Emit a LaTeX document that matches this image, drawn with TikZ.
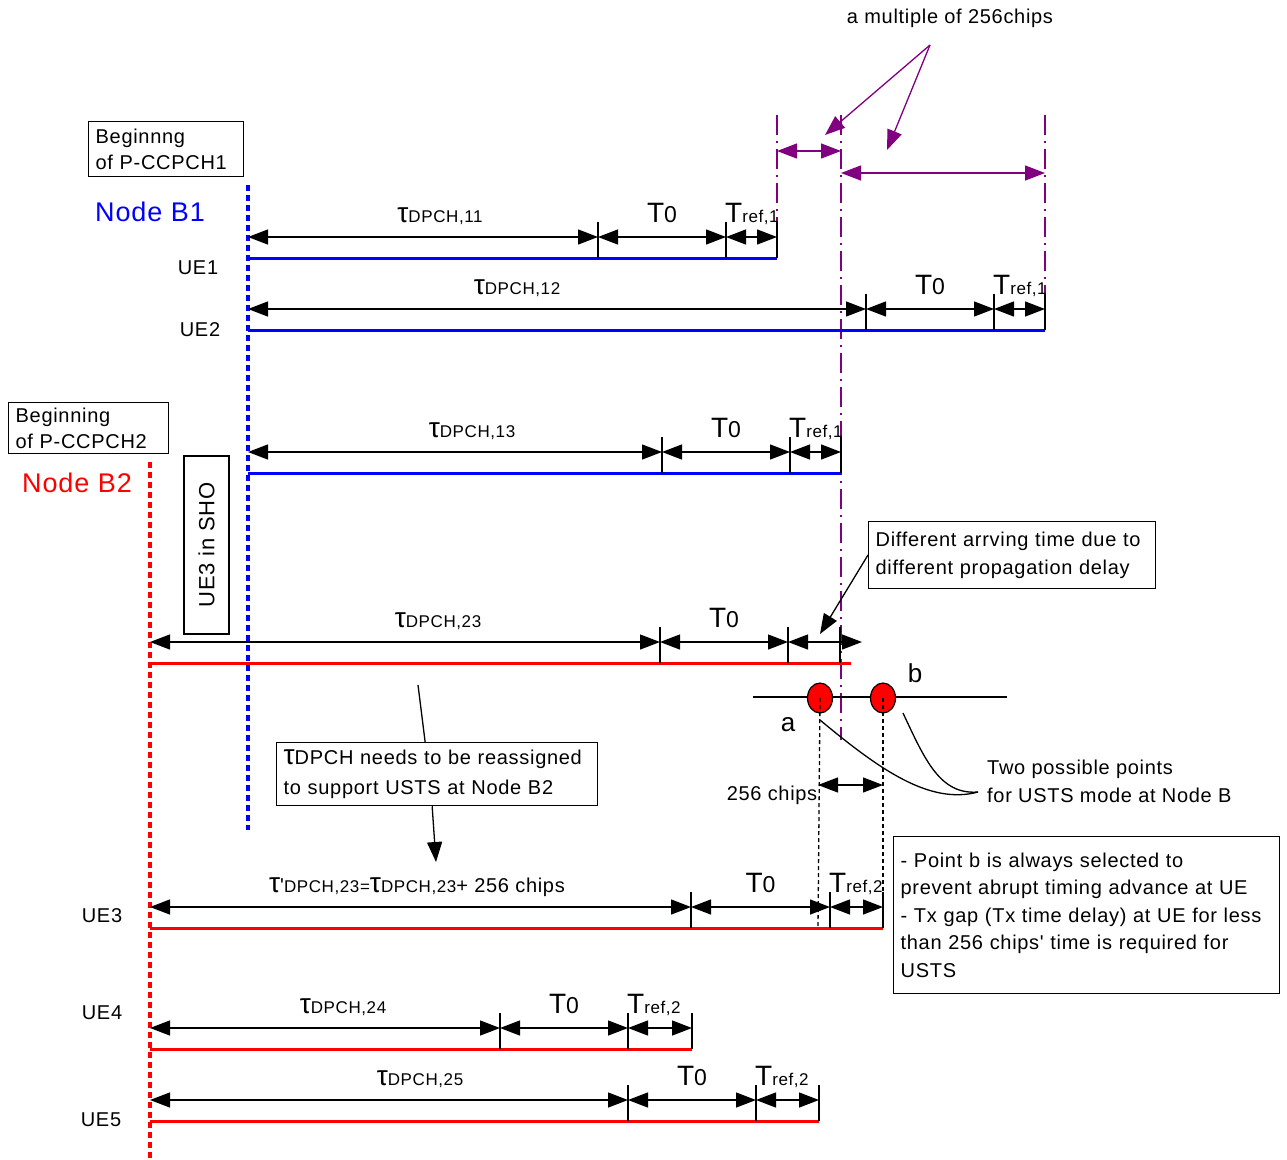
\documentclass[tikz,border=0pt]{standalone}
\usepackage{fontspec}
\setmainfont{Liberation Sans}[LetterSpace=3.5,Ligatures=TeXOff]
\usetikzlibrary{arrows.meta,shapes.geometric}
\definecolor{chipviolet}{RGB}{128,0,128}
\newcommand\tauD{{\fontsize{28}{28}\selectfont τ}}
\newcommand\bigT{{\fontsize{28}{28}\selectfont T}}
\newcommand\tsub[1]{{\fontsize{17}{17}\selectfont #1}}
\newcommand\tnull{\bigT{\fontsize{23}{23}\selectfont 0}}
\begin{document}
\begin{tikzpicture}[x=1pt,y=-1pt,every node/.style={font=\fontsize{20}{24}\selectfont,inner sep=0pt}]
	\tikzset{dim/.style = {{Triangle[length=20pt,width=15pt]}-{Triangle[length=20pt,width=15pt]},line width=1.3pt}}
	\tikzset{onetip/.style = {-{Triangle[length=20pt,width=15pt]},line width=1.3pt}}
	\tikzset{divider/.style = {line width=1.2pt}}
	\tikzset{chan/.style = {line width=3pt}}
	\tikzset{bline/.style = {line width=3.2pt,dash pattern=on 6pt off 4pt}}
	\tikzset{chipline/.style = {chipviolet,line width=1.3pt,dash pattern=on 20pt off 6pt on 2pt off 6pt}}
	\tikzset{dotline/.style = {line width=1.3pt,dash pattern=on 4pt off 3pt}}
	\tikzset{box/.style = {draw,line width=1.3pt,align=left,inner sep=7pt,font=\fontsize{20}{26}\selectfont}}
	\tikzset{lbl/.style = {anchor=base}}
	\useasboundingbox (0,0) rectangle (1287,1159);
	% Node B timing origins
	\draw[bline,blue] (248,185) -- (248,830);
	\draw[bline,red] (150,462) -- (150,1159);
	\node[box,text width=141pt,anchor=north west] (pcc1) at (88,121) {Beginnng\\of P-CCPCH1};
	\node[text=blue,font=\fontsize{27}{27}\selectfont] (nb1) at (150,212) {Node B1};
	\node[box,text width=146pt,anchor=north west,inner ysep=5pt] (pcc2) at (8,402) {Beginning\\of P-CCPCH2};
	\node[text=red,font=\fontsize{27}{27}\selectfont] (nb2) at (77,483) {Node B2};
	\node[draw,line width=1.3pt,rotate=90,minimum width=178pt,minimum height=45pt,font=\fontsize{22}{22}\selectfont] (sho) at (206.5,545) {UE3 in SHO};
	% 256-chip grid
	\draw[chipline] (777,115) -- (777,235);
	\draw[chipline] (841,115) -- (841,740);
	\draw[chipline] (1045,115) -- (1045,300);
	\coordinate (g1) at (777,151);
	\coordinate (g2) at (841,151);
	\coordinate (g3) at (841,173);
	\coordinate (g4) at (1045,173);
	\draw[dim,chipviolet] (g1) -- (g2);
	\draw[dim,chipviolet] (g3) -- (g4);
	\node (mult) at (950,18) {a multiple of 256chips};
	\coordinate (mfrom) at (930,45);
	\coordinate (mto1) at (825,135);
	\coordinate (mto2) at (887,150);
	\draw[onetip,chipviolet] (mfrom) -- (mto1);
	\draw[onetip,chipviolet] (mfrom) -- (mto2);
	% Channel rows
	\foreach \n/\y/\xa/\xb/\xc/\xd/\col/\tx/\tlab/\tr in {
		ue1/237/248/598/726/777/blue/440/{\tauD\tsub{DPCH,11}}/1,
		ue2/309/248/866/994/1045/blue/517/{\tauD\tsub{DPCH,12}}/1,
		ue3a/452/248/662/790/841/blue/472/{\tauD\tsub{DPCH,13}}/1,
		ue3/907/150/691/830/883/red/417/{\tauD'\tsub{DPCH,23=}\tauD\tsub{DPCH,23}+ 256 chips}/2,
		ue4/1028/150/500/628/692/red/343/{\tauD\tsub{DPCH,24}}/2,
		ue5/1100/150/628/756/819/red/420/{\tauD\tsub{DPCH,25}}/2}
	{
		\coordinate (\n-s) at (\xa,\y);
		\coordinate (\n-a) at (\xb,\y);
		\coordinate (\n-b) at (\xc,\y);
		\coordinate (\n-e) at (\xd,\y);
		\coordinate (\n-ls) at (\xa,\y+21);
		\coordinate (\n-le) at (\xd,\y+21);
		\draw[chan,\col] (\n-ls) -- (\n-le);
		\foreach \t in {\xb,\xc,\xd} \draw[divider] (\t,\y-15) -- (\t,\y+21);
		\draw[dim] (\n-s) -- (\n-a);
		\draw[dim] (\n-a) -- (\n-b);
		\draw[dim] (\n-b) -- (\n-e);
		\node[lbl] (\n-tau) at (\tx,\y-15) {\tlab};
		\node[lbl] (\n-t0) at ({(\xb+\xc)/2},\y-15) {\tnull};
		\node[lbl,anchor=base west] (\n-tr) at (\xc-1,\y-15) {\bigT\tsub{ref,\tr}};
	}
	\node (lue1) at (198,268) {UE1};
	\node (lue2) at (200,330) {UE2};
	\node (lue3) at (102,916) {UE3};
	\node (lue4) at (102,1013) {UE4};
	\node (lue5) at (101,1120) {UE5};
	% UE3 seen from Node B2 during SHO
	\coordinate (sho-s) at (150,642);
	\coordinate (sho-a) at (660,642);
	\coordinate (sho-b) at (788,642);
	\coordinate (sho-e) at (862,642);
	\coordinate (sho-ls) at (150,663);
	\coordinate (sho-le) at (851,663);
	\draw[chan,red] (sho-ls) -- (sho-le);
	\foreach \t in {660,788,840} \draw[divider] (\t,627) -- (\t,663);
	\draw[dim] (sho-s) -- (sho-a);
	\draw[dim] (sho-a) -- (sho-b);
	\draw[dim] (sho-b) -- (sho-e);
	\node[lbl] (sho-tau) at (438,627) {\tauD\tsub{DPCH,23}};
	\node[lbl] (sho-t0) at (724,627) {\tnull};
	\node[box,text width=273pt,anchor=north west,inner ysep=10pt,font=\fontsize{20}{28}\selectfont] (diff) at (868,521) {Different arrving time due to\\different propagation delay};
	\coordinate (darr) at (820,634);
	\draw[onetip] (diff.west) -- (darr);
	% Two candidate points a and b
	\coordinate (ax1) at (753,697);
	\coordinate (ax2) at (1007,697);
	\draw[line width=1.3pt] (ax1) -- (ax2);
	\node[ellipse,draw,fill=red,line width=1.2pt,minimum width=25pt,minimum height=30pt] (pa) at (820,698) {};
	\node[ellipse,draw,fill=red,line width=1.2pt,minimum width=25pt,minimum height=30pt] (pb) at (883,698) {};
	\node[font=\fontsize{26}{26}\selectfont] (la) at (788,725) {a};
	\node[font=\fontsize{26}{26}\selectfont] (lb) at (915,673) {b};
	\coordinate (pa-f) at (818,928);
	\coordinate (pb-f) at (883,928);
	\draw[dotline] (pa.center) -- (pa-f);
	\draw[dotline] (pb.center) -- (pb-f);
	\coordinate (c1) at (818,785);
	\coordinate (c2) at (883,785);
	\draw[dim] (c1) -- (c2);
	\node (l256) at (772,795) {256 chips};
	\node[anchor=west,align=left,font=\fontsize{20}{28}\selectfont] (twop) at (987,781) {Two possible points\\for USTS mode at Node B};
	\coordinate (tpj) at (978,792);
	\coordinate (pa-c) at (820,720);
	\coordinate (pb-c) at (903,713);
	\draw[line width=1.3pt] (pa-c) .. controls (880,770) and (930,805) .. (tpj);
	\draw[line width=1.3pt] (pb-c) .. controls (925,760) and (940,795) .. (tpj);
	% Reassignment note
	\node[box,text width=307pt,anchor=north west,font=\fontsize{20}{30}\selectfont] (reas) at (276,742) {\tauD DPCH needs to be reassigned\\to support USTS at Node B2};
	\coordinate (rs) at (418,685);
	\coordinate (rt) at (436,862);
	\draw[line width=1.3pt] (rs) -- ([xshift=-12pt]reas.north);
	\draw[onetip] ([xshift=-5pt]reas.south) -- (rt);
	\node[box,text width=372pt,minimum height=157pt,anchor=north west,font=\fontsize{20}{27.5}\selectfont] (note) at (893,836) {- Point b is always selected to\\prevent abrupt timing advance at UE\\- Tx gap (Tx time delay) at UE for less\\than 256 chips' time is required for\\USTS};
\end{tikzpicture}
\end{document}
